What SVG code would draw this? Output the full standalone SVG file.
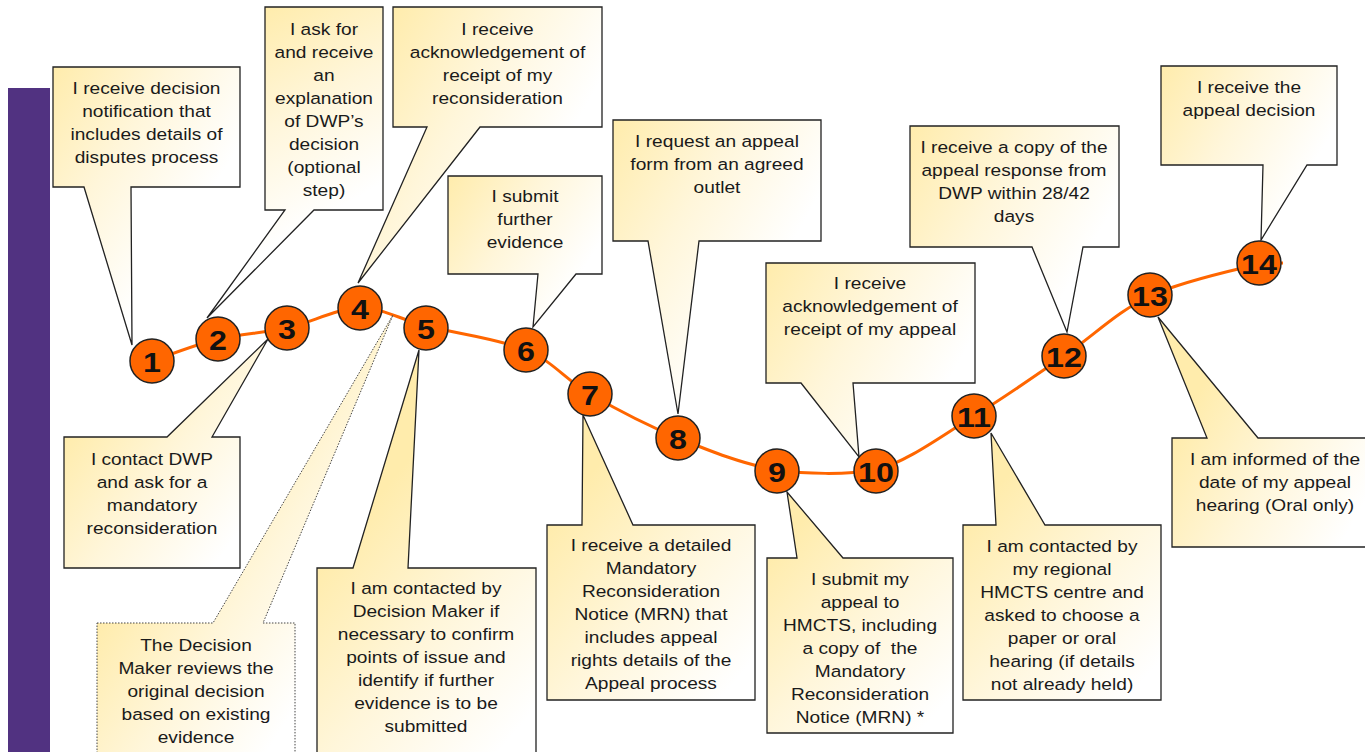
<svg xmlns="http://www.w3.org/2000/svg" xmlns:xlink="http://www.w3.org/1999/xlink" width="1365" height="752" viewBox="0 0 1365 752">
<style>
.co{stroke:#222;stroke-width:1.3;stroke-linejoin:miter}
.dot{stroke:#444;stroke-width:1;stroke-dasharray:1.5 1.5}
.t{font-family:"Liberation Sans",Arial,sans-serif;font-size:16.5px;fill:#1a1a1a;text-anchor:middle}
.n{font-family:"Liberation Sans",Arial,sans-serif;font-size:28px;font-weight:bold;fill:#111;text-anchor:middle}
.c{fill:#FF6600;stroke:#222;stroke-width:1.5}
.curve{fill:none;stroke:#FF6600;stroke-width:3}
</style>
<defs>
<linearGradient id="gA" gradientUnits="objectBoundingBox" x1="0" y1="0" x2="1" y2="1"><stop offset="0" stop-color="#FFECAC"/><stop offset="0.45" stop-color="#FFF6DA"/><stop offset="0.9" stop-color="#FFFFFF"/></linearGradient>
<linearGradient id="g1" gradientUnits="userSpaceOnUse" x1="53" y1="67" x2="240" y2="187" xlink:href="#gA"/>
<linearGradient id="g2" gradientUnits="userSpaceOnUse" x1="265" y1="7" x2="383" y2="210" xlink:href="#gA"/>
<linearGradient id="g4" gradientUnits="userSpaceOnUse" x1="393" y1="7" x2="602" y2="127" xlink:href="#gA"/>
<linearGradient id="g6" gradientUnits="userSpaceOnUse" x1="448" y1="176" x2="602" y2="274" xlink:href="#gA"/>
<linearGradient id="g8" gradientUnits="userSpaceOnUse" x1="613" y1="120" x2="821" y2="241" xlink:href="#gA"/>
<linearGradient id="g10" gradientUnits="userSpaceOnUse" x1="766" y1="263" x2="975" y2="383" xlink:href="#gA"/>
<linearGradient id="g12" gradientUnits="userSpaceOnUse" x1="910" y1="126" x2="1119" y2="247" xlink:href="#gA"/>
<linearGradient id="g14" gradientUnits="userSpaceOnUse" x1="1161" y1="66" x2="1337" y2="165" xlink:href="#gA"/>
<linearGradient id="g3" gradientUnits="userSpaceOnUse" x1="64" y1="437" x2="240" y2="568" xlink:href="#gA"/>
<linearGradient id="gd" gradientUnits="userSpaceOnUse" x1="97" y1="623" x2="295" y2="752" xlink:href="#gA"/>
<linearGradient id="g5" gradientUnits="userSpaceOnUse" x1="317" y1="568" x2="536" y2="752" xlink:href="#gA"/>
<linearGradient id="g7" gradientUnits="userSpaceOnUse" x1="547" y1="525" x2="755" y2="700" xlink:href="#gA"/>
<linearGradient id="g9" gradientUnits="userSpaceOnUse" x1="767" y1="558" x2="953" y2="733" xlink:href="#gA"/>
<linearGradient id="g11" gradientUnits="userSpaceOnUse" x1="963" y1="525" x2="1161" y2="700" xlink:href="#gA"/>
<linearGradient id="g13" gradientUnits="userSpaceOnUse" x1="1172" y1="438" x2="1365" y2="547" xlink:href="#gA"/>
</defs>
<rect width="1365" height="752" fill="#FFFFFF"/>
<rect id="bar" x="8" y="88" width="42" height="664" fill="#513281"/>

<g id="connectors">
<path class="curve" d="M152,361 C163,357.3 195.5,344.5 218,339 C240.5,333.5 263.3,333.2 287,328 C310.7,322.8 336.8,308.3 360,308 C383.2,307.7 398.3,319 426,326 C453.7,333 498.7,338.7 526,350 C553.3,361.3 564.7,379.3 590,394 C615.3,408.7 646.8,425.3 678,438 C709.2,450.7 744,464.7 777,470 C805,474 845,475 876,470 C908.8,461 942.7,435 974,416 C1005.3,397 1034.7,376 1064,356 C1093.3,336 1117.5,311.3 1150,296 C1182.5,280.7 1236.8,269.5 1259,264 L1283,263"/>
</g>

<g id="callout1"><path class="co" fill="url(#g1)" d="M53,67 H240 V187 H131 L132,345 L84,187 H53 Z"/>
<g transform="translate(146.5,0) scale(1.16,1)"><text class="t"><tspan x="0" y="94">I receive decision</tspan><tspan x="0" y="117">notification that</tspan><tspan x="0" y="140">includes details of</tspan><tspan x="0" y="163">disputes process</tspan></text></g></g>

<g id="callout2"><path class="co" fill="url(#g2)" d="M265,7 H383 V210 H314 L207,318 L285,210 H265 Z"/>
<g transform="translate(324,0) scale(1.16,1)"><text class="t"><tspan x="0" y="35">I ask for</tspan><tspan x="0" y="58">and receive</tspan><tspan x="0" y="81">an</tspan><tspan x="0" y="104">explanation</tspan><tspan x="0" y="127">of DWP’s</tspan><tspan x="0" y="150">decision</tspan><tspan x="0" y="173">(optional</tspan><tspan x="0" y="196">step)</tspan></text></g></g>

<g id="callout4"><path class="co" fill="url(#g4)" d="M393,7 H602 V127 H480 L358,283 L427,127 H393 Z"/>
<g transform="translate(497.5,0) scale(1.16,1)"><text class="t"><tspan x="0" y="35">I receive</tspan><tspan x="0" y="58">acknowledgement of</tspan><tspan x="0" y="81">receipt of my</tspan><tspan x="0" y="104">reconsideration</tspan></text></g></g>

<g id="callout6"><path class="co" fill="url(#g6)" d="M448,176 H602 V274 H576 L533,327 L538,274 H448 Z"/>
<g transform="translate(525,0) scale(1.16,1)"><text class="t"><tspan x="0" y="202">I submit</tspan><tspan x="0" y="225">further</tspan><tspan x="0" y="248">evidence</tspan></text></g></g>

<g id="callout8"><path class="co" fill="url(#g8)" d="M613,120 H821 V241 H699 L678,414 L648,241 H613 Z"/>
<g transform="translate(717,0) scale(1.16,1)"><text class="t"><tspan x="0" y="147">I request an appeal</tspan><tspan x="0" y="170">form from an agreed</tspan><tspan x="0" y="193">outlet</tspan></text></g></g>

<g id="callout10"><path class="co" fill="url(#g10)" d="M766,263 H975 V383 H853 L859,457 L801,383 H766 Z"/>
<g transform="translate(870,0) scale(1.16,1)"><text class="t"><tspan x="0" y="289">I receive</tspan><tspan x="0" y="312">acknowledgement of</tspan><tspan x="0" y="335">receipt of my appeal</tspan></text></g></g>

<g id="callout12"><path class="co" fill="url(#g12)" d="M910,126 H1119 V247 H1083 L1067,332 L1032,247 H910 Z"/>
<g transform="translate(1014,0) scale(1.16,1)"><text class="t"><tspan x="0" y="153">I receive a copy of the</tspan><tspan x="0" y="176">appeal response from</tspan><tspan x="0" y="199">DWP within 28/42</tspan><tspan x="0" y="222">days</tspan></text></g></g>

<g id="callout14"><path class="co" fill="url(#g14)" d="M1161,66 H1337 V165 H1307 L1261,240 L1263,165 H1161 Z"/>
<g transform="translate(1249,0) scale(1.16,1)"><text class="t"><tspan x="0" y="93">I receive the</tspan><tspan x="0" y="116">appeal decision</tspan></text></g></g>

<g id="callout3"><path class="co" fill="url(#g3)" d="M64,437 H167 L268,339 L212,437 H240 V568 H64 Z"/>
<g transform="translate(152,0) scale(1.16,1)"><text class="t"><tspan x="0" y="465">I contact DWP</tspan><tspan x="0" y="488">and ask for a</tspan><tspan x="0" y="511">mandatory</tspan><tspan x="0" y="534">reconsideration</tspan></text></g></g>

<g id="callout-review"><path class="dot" fill="url(#gd)" d="M97,623 H213 L393,315 L263,623 H295 V762 H97 Z"/>
<g transform="translate(196,0) scale(1.16,1)"><text class="t"><tspan x="0" y="651">The Decision</tspan><tspan x="0" y="674">Maker reviews the</tspan><tspan x="0" y="697">original decision</tspan><tspan x="0" y="720">based on existing</tspan><tspan x="0" y="743">evidence</tspan></text></g></g>

<g id="callout5"><path class="co" fill="url(#g5)" d="M317,568 H353 L419,350 L408,568 H536 V762 H317 Z"/>
<g transform="translate(426,0) scale(1.16,1)"><text class="t"><tspan x="0" y="594">I am contacted by</tspan><tspan x="0" y="617">Decision Maker if</tspan><tspan x="0" y="640">necessary to confirm</tspan><tspan x="0" y="663">points of issue and</tspan><tspan x="0" y="686">identify if further</tspan><tspan x="0" y="709">evidence is to be</tspan><tspan x="0" y="732">submitted</tspan></text></g></g>

<g id="callout7"><path class="co" fill="url(#g7)" d="M547,525 H582 L583,415 L633,525 H755 V700 H547 Z"/>
<g transform="translate(651,0) scale(1.16,1)"><text class="t"><tspan x="0" y="551">I receive a detailed</tspan><tspan x="0" y="574">Mandatory</tspan><tspan x="0" y="597">Reconsideration</tspan><tspan x="0" y="620">Notice (MRN) that</tspan><tspan x="0" y="643">includes appeal</tspan><tspan x="0" y="666">rights details of the</tspan><tspan x="0" y="689">Appeal process</tspan></text></g></g>

<g id="callout9"><path class="co" fill="url(#g9)" d="M767,558 H797 L787,492 L843,558 H953 V733 H767 Z"/>
<g transform="translate(860,0) scale(1.16,1)"><text class="t"><tspan x="0" y="585">I submit my</tspan><tspan x="0" y="608">appeal to</tspan><tspan x="0" y="631">HMCTS, including</tspan><tspan x="0" y="654" xml:space="preserve">a copy of  the</tspan><tspan x="0" y="677">Mandatory</tspan><tspan x="0" y="700">Reconsideration</tspan><tspan x="0" y="723">Notice (MRN) *</tspan></text></g></g>

<g id="callout11"><path class="co" fill="url(#g11)" d="M963,525 H996 L991,433 L1045,525 H1161 V700 H963 Z"/>
<g transform="translate(1062,0) scale(1.16,1)"><text class="t"><tspan x="0" y="552">I am contacted by</tspan><tspan x="0" y="575">my regional</tspan><tspan x="0" y="598">HMCTS centre and</tspan><tspan x="0" y="621">asked to choose a</tspan><tspan x="0" y="644">paper or oral</tspan><tspan x="0" y="667">hearing (if details</tspan><tspan x="0" y="690">not already held)</tspan></text></g></g>

<g id="callout13"><path class="co" fill="url(#g13)" d="M1172,438 H1207 L1158,317 L1258,438 H1372 V547 H1172 Z"/>
<g transform="translate(1275,0) scale(1.16,1)"><text class="t"><tspan x="0" y="465">I am informed of the</tspan><tspan x="0" y="488">date of my appeal</tspan><tspan x="0" y="511">hearing (Oral only)</tspan></text></g></g>

<g id="step1"><circle class="c" cx="152" cy="361" r="22"/><g transform="translate(152,0) scale(1.15,1)"><text class="n" x="0" y="372">1</text></g></g>
<g id="step2"><circle class="c" cx="218" cy="339" r="22"/><g transform="translate(218,0) scale(1.15,1)"><text class="n" x="0" y="350">2</text></g></g>
<g id="step3"><circle class="c" cx="287" cy="328" r="22"/><g transform="translate(287,0) scale(1.15,1)"><text class="n" x="0" y="339">3</text></g></g>
<g id="step4"><circle class="c" cx="360" cy="308" r="22"/><g transform="translate(360,0) scale(1.15,1)"><text class="n" x="0" y="319">4</text></g></g>
<g id="step5"><circle class="c" cx="426" cy="328" r="22"/><g transform="translate(426,0) scale(1.15,1)"><text class="n" x="0" y="339">5</text></g></g>
<g id="step6"><circle class="c" cx="526" cy="350" r="22"/><g transform="translate(526,0) scale(1.15,1)"><text class="n" x="0" y="361">6</text></g></g>
<g id="step7"><circle class="c" cx="590" cy="394" r="22"/><g transform="translate(590,0) scale(1.15,1)"><text class="n" x="0" y="405">7</text></g></g>
<g id="step8"><circle class="c" cx="678" cy="438" r="22"/><g transform="translate(678,0) scale(1.15,1)"><text class="n" x="0" y="449">8</text></g></g>
<g id="step9"><circle class="c" cx="777" cy="471" r="22"/><g transform="translate(777,0) scale(1.15,1)"><text class="n" x="0" y="482">9</text></g></g>
<g id="step10"><circle class="c" cx="876" cy="471" r="22"/><g transform="translate(876,0) scale(1.15,1)"><text class="n" x="0" y="482">10</text></g></g>
<g id="step11"><circle class="c" cx="974" cy="416" r="22"/><g transform="translate(974,0) scale(1.15,1)"><text class="n" x="0" y="427">11</text></g></g>
<g id="step12"><circle class="c" cx="1064" cy="356" r="22"/><g transform="translate(1064,0) scale(1.15,1)"><text class="n" x="0" y="367">12</text></g></g>
<g id="step13"><circle class="c" cx="1150" cy="295" r="22"/><g transform="translate(1150,0) scale(1.15,1)"><text class="n" x="0" y="306">13</text></g></g>
<g id="step14"><circle class="c" cx="1259" cy="263" r="22"/><g transform="translate(1259,0) scale(1.15,1)"><text class="n" x="0" y="274">14</text></g></g>
</svg>
